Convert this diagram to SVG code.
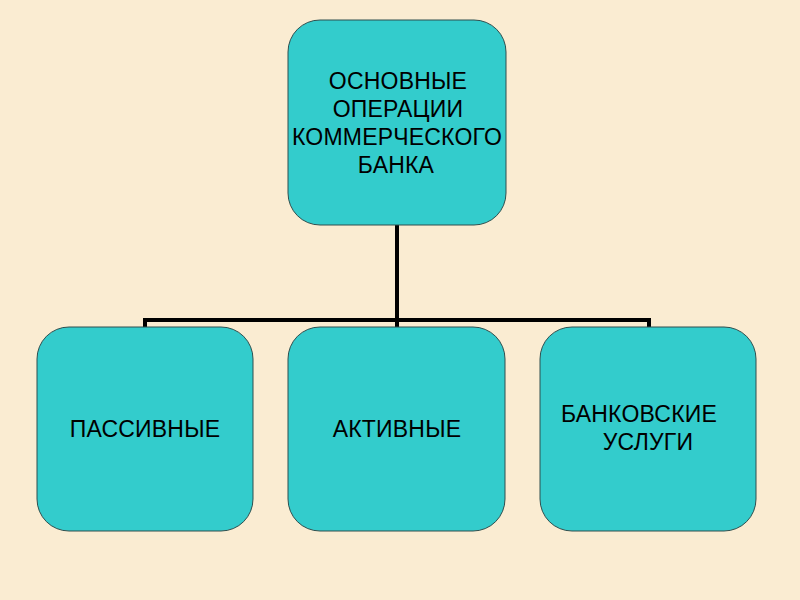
<svg xmlns="http://www.w3.org/2000/svg" width="800" height="600" viewBox="0 0 800 600">
<defs>
<style>
.box{fill:#33CCCC;stroke:#2F4F4F;stroke-width:1}
.t{font-family:"Liberation Sans",Arial,sans-serif;font-size:23px;letter-spacing:0.2px;fill:#000;text-anchor:middle}
.c{fill:none;stroke:#000;stroke-width:4}
</style>
</defs>
<rect width="800" height="600" fill="#FAECD2"/>
<g id="connectors">
<path class="c" d="M397,225 V320 M145,328 V320 H649 V328 M397,320 V328"/>
</g>
<g id="root">
<rect class="box" x="288" y="20" width="218" height="205" rx="32"/>
<text class="t" x="398" y="89">ОСНОВНЫЕ</text>
<text class="t" x="398" y="117">ОПЕРАЦИИ</text>
<text class="t" x="397" y="145">КОММЕРЧЕСКОГО</text>
<text class="t" x="396" y="173">БАНКА</text>
</g>
<g id="passive">
<rect class="box" x="37" y="327" width="216" height="204" rx="32"/>
<text class="t" x="145" y="437">ПАССИВНЫЕ</text>
</g>
<g id="active">
<rect class="box" x="288" y="327" width="217" height="204" rx="32"/>
<text class="t" x="397" y="437">АКТИВНЫЕ</text>
</g>
<g id="services">
<rect class="box" x="540" y="327" width="216" height="204" rx="32"/>
<text class="t" x="639" y="422">БАНКОВСКИЕ</text>
<text class="t" x="648" y="450">УСЛУГИ</text>
</g>
</svg>
